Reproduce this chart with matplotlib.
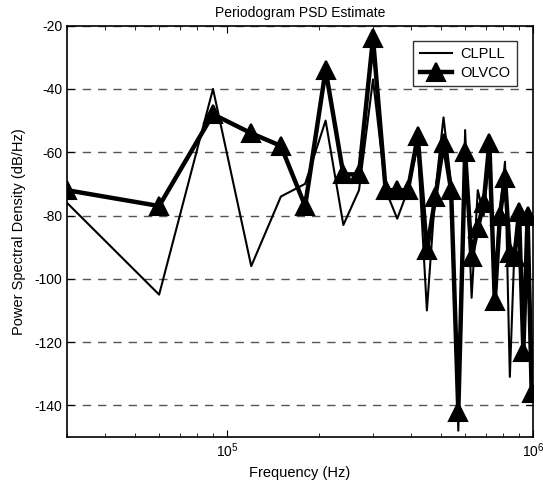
import matplotlib
matplotlib.use("Agg")
import matplotlib.pyplot as plt
import numpy as np

plt.rcParams['font.family'] = ['Liberation Sans', 'DejaVu Sans']

# Frequency bins (Hz): multiples of 30 kHz
freq_hz = [30000 * k for k in range(1, 34)]

clpll_db = [-76, -105, -40, -96, -74, -70, -50, -83, -72, -37,
            -72, -81, -72, -58, -110, -72, -49, -70, -148, -53,
            -106, -72, -80, -60, -100, -78, -63, -131, -90, -80,
            -118, -80, -125]

olvco_db = [-72, -77, -48, -54, -58, -77, -34, -67, -67, -24,
            -72, -72, -72, -55, -91, -74, -57, -72, -142, -60,
            -93, -84, -76, -57, -107, -80, -68, -92, -93, -79,
            -123, -80, -136]

title = "Periodogram PSD Estimate"
xlabel = "Frequency (Hz)"
ylabel = "Power Spectral Density (dB/Hz)"
yticks = [-140, -120, -100, -80, -60, -40, -20]

fig = plt.figure(figsize=(5.43, 4.84), dpi=100)
ax = fig.add_axes([0.1234, 0.0971, 0.8582, 0.8499])

ax.plot(freq_hz, clpll_db, color='black', linewidth=1.5, label='CLPLL')
ax.plot(freq_hz, olvco_db, color='black', linewidth=3.2, marker='^',
        markersize=12.5, markeredgewidth=1.5, label='OLVCO')

ax.set_xscale('log')
ax.set_xlim(3e4, 1e6)
ax.set_ylim(-150, -20)
ax.set_yticks(yticks)
ax.set_yticklabels([str(v) for v in yticks])
ax.yaxis.grid(True, linestyle=(0, (6, 5)), color='#555555', linewidth=1.0)
ax.xaxis.grid(False)

ax.tick_params(direction='in', which='both', top=True, right=True, labelsize=10)
ax.tick_params(which='major', length=5)
ax.tick_params(which='minor', length=3)
for s in ax.spines.values():
    s.set_linewidth(1.2)

ax.set_title(title, fontsize=10, pad=6)
ax.set_xlabel(xlabel, fontsize=10.5, labelpad=4)
ax.set_ylabel(ylabel, fontsize=10.5, labelpad=6)

leg = ax.legend(loc='upper right', fontsize=10.5, frameon=True, fancybox=False,
                edgecolor='black', handlelength=2.2, handletextpad=0.6,
                borderpad=0.45, labelspacing=0.3, borderaxespad=0.0,
                bbox_to_anchor=(0.966, 0.963))
leg.get_frame().set_linewidth(1.0)

fig.savefig('out.png', dpi=100)
